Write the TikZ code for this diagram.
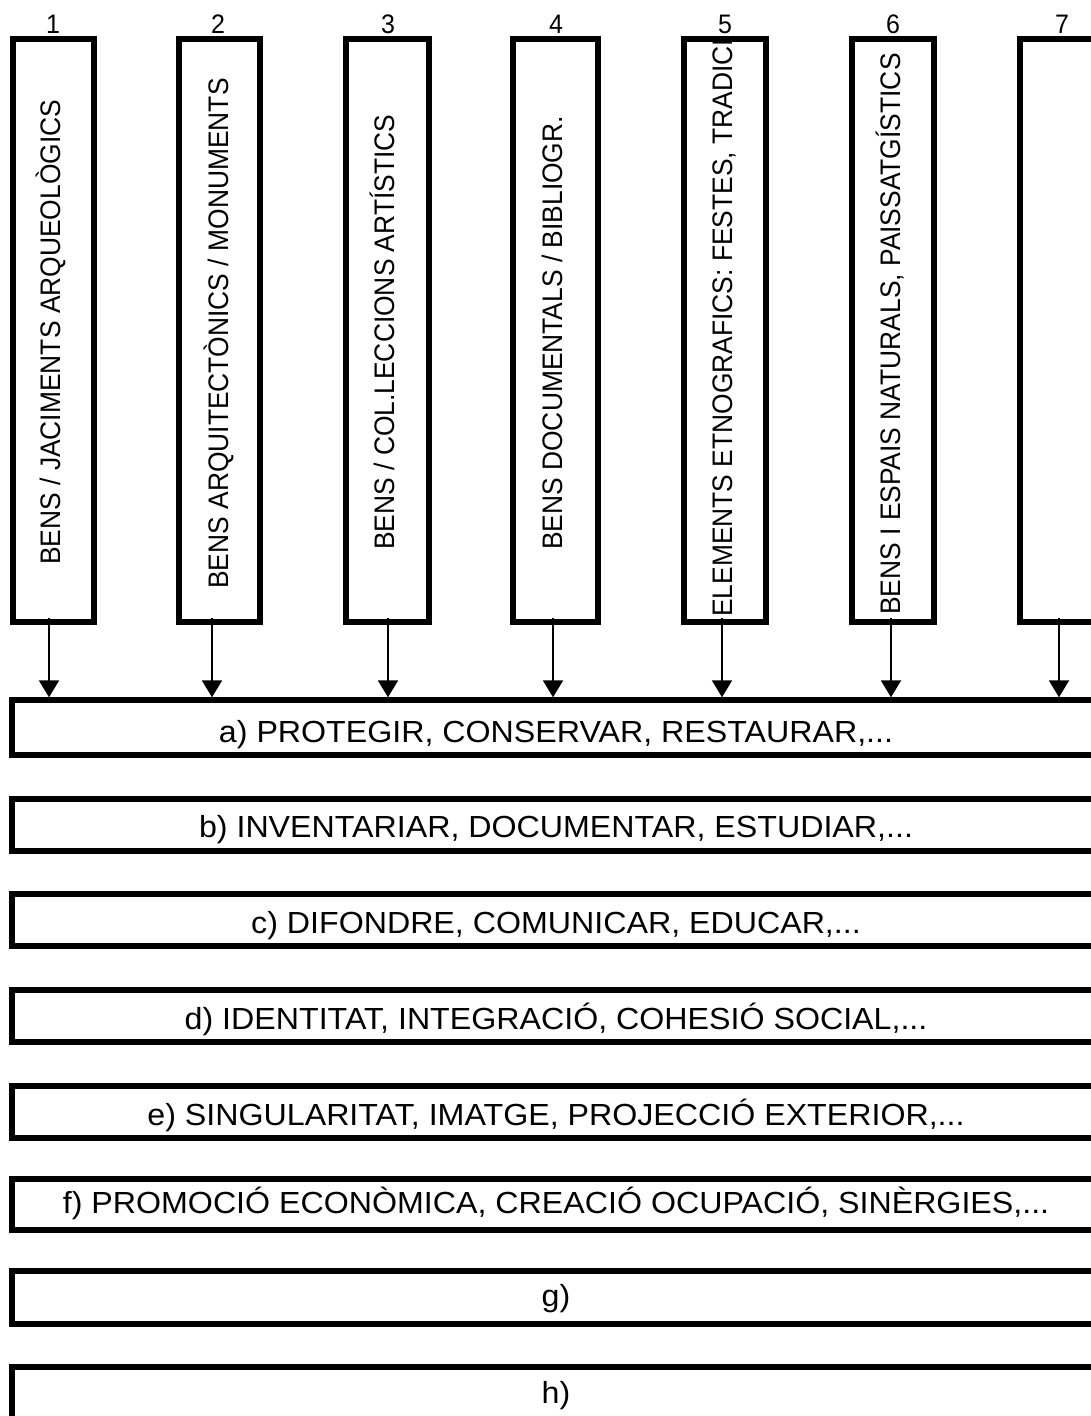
\documentclass[tikz,border=0pt]{standalone}
\usepackage{fontspec}
\setmainfont{Liberation Sans}
\usepackage{graphicx}
\usetikzlibrary{arrows.meta}
\newcommand\hfnt{\fontsize{30.5}{30.5}\selectfont}
\newcommand\vfnt{\fontsize{26.4}{26.4}\selectfont}
\newcommand\nfnt{\fontsize{25}{25}\selectfont}
\newcommand\hs[1]{\scalebox{1.055}[1]{#1}}
\newcommand\vs[1]{\scalebox{1}[1.07]{#1}}
\begin{document}
\begin{tikzpicture}[x=1pt,y=-1pt,
  hb/.style={draw, line width=6pt, minimum width=1088pt, inner sep=0pt},
  vb/.style={draw, line width=6pt, inner sep=0pt, minimum height=583pt},
  ht/.style={font=\hfnt, anchor=base, inner sep=0pt},
  vt/.style={font=\vfnt, rotate=90, anchor=base west, inner sep=0pt},
  num/.style={font=\nfnt, anchor=base, inner sep=0pt},
  arr/.style={line width=2pt, -{Triangle[width=20pt,length=17pt]}}]
\useasboundingbox[fill=white] (0,0) rectangle (1091,1416);

% numbers
\node[num] (n1) at (53,33) {\vs{1}};
\node[num] (n2) at (218,33) {\vs{2}};
\node[num] (n3) at (388,33) {\vs{3}};
\node[num] (n4) at (556,33) {\vs{4}};
\node[num] (n5) at (725,33) {\vs{5}};
\node[num] (n6) at (893,33) {\vs{6}};
\node[num] (n7) at (1062,33) {\vs{7}};

% vertical texts
\node[vt] (t1) at (60,565) {\vs{BENS / JACIMENTS ARQUEOLÒGICS}};
\node[vt] (t2) at (228,589) {\vs{BENS ARQUITECTÒNICS / MONUMENTS}};
\node[vt] (t3) at (394,550) {\vs{BENS / COL.LECCIONS ARTÍSTICS}};
\node[vt] (t4) at (562,550) {\vs{BENS DOCUMENTALS / BIBLIOGR.}};
\begin{scope}
\clip (684,39) rectangle (765.5,622);
\node[vt] (t5) at (732,617) {\vs{ELEMENTS ETNOGRAFICS: FESTES, TRADICIO}};
\end{scope}
\node[vt] (t6) at (900,615) {\vs{BENS I ESPAIS NATURALS, PAISSATGÍSTICS}};

% vertical boxes
\node[vb, minimum width=81.5pt] (v1) at (53.25,330.5) {};
\node[vb, minimum width=81pt]   (v2) at (219.5,330.5) {};
\node[vb, minimum width=83pt]   (v3) at (387,330.5) {};
\node[vb, minimum width=84.5pt] (v4) at (555.25,330.5) {};
\node[vb, minimum width=81.5pt] (v5) at (724.75,330.5) {};
\node[vb, minimum width=82pt]   (v6) at (892.5,330.5) {};
\node[vb, minimum width=82pt]   (v7) at (1060.5,330.5) {};

% horizontal boxes
\node[hb, minimum height=54.2pt] (a) at (556,727.4) {};
\node[hb, minimum height=51.5pt] (b) at (556,824.75) {};
\node[hb, minimum height=52pt]   (c) at (556,920.25) {};
\node[hb, minimum height=52pt]   (d) at (556,1016) {};
\node[hb, minimum height=52.5pt] (e) at (556,1111.75) {};
\node[hb, minimum height=51.5pt] (f) at (556,1204.25) {};
\node[hb, minimum height=52.5pt] (g) at (556,1297.5) {};
\node[hb, minimum height=53pt]   (h) at (556,1393) {};

% horizontal texts
\node[ht] (ta) at (556,742) {\hs{a) PROTEGIR, CONSERVAR, RESTAURAR,...}};
\node[ht] (tb) at (556,837) {\hs{b) INVENTARIAR, DOCUMENTAR, ESTUDIAR,...}};
\node[ht] (tc) at (556,933) {\hs{c) DIFONDRE, COMUNICAR, EDUCAR,...}};
\node[ht] (td) at (556,1029) {\hs{d) IDENTITAT, INTEGRACIÓ, COHESIÓ SOCIAL,...}};
\node[ht] (te) at (556,1125) {\hs{e) SINGULARITAT, IMATGE, PROJECCIÓ EXTERIOR,...}};
\node[ht] (tf) at (556,1213) {\hs{f) PROMOCIÓ ECONÒMICA, CREACIÓ OCUPACIÓ, SINÈRGIES,...}};
\node[ht] (tg) at (556,1306) {\hs{g)}};
\node[ht] (th) at (556,1403) {\hs{h)}};

% arrows
\coordinate (s1) at ([xshift=-4.25pt,yshift=7pt]v1.south);
\coordinate (s2) at ([xshift=-7.5pt,yshift=7pt]v2.south);
\coordinate (s3) at ([xshift=1pt,yshift=7pt]v3.south);
\coordinate (s4) at ([xshift=-2.25pt,yshift=7pt]v4.south);
\coordinate (s5) at ([xshift=-2.75pt,yshift=7pt]v5.south);
\coordinate (s6) at ([xshift=-1.5pt,yshift=7pt]v6.south);
\coordinate (s7) at ([xshift=-1.5pt,yshift=7pt]v7.south);
\foreach \i in {1,...,7}{\draw[arr] (s\i) -- (s\i |- a.north);}
\end{tikzpicture}
\end{document}
